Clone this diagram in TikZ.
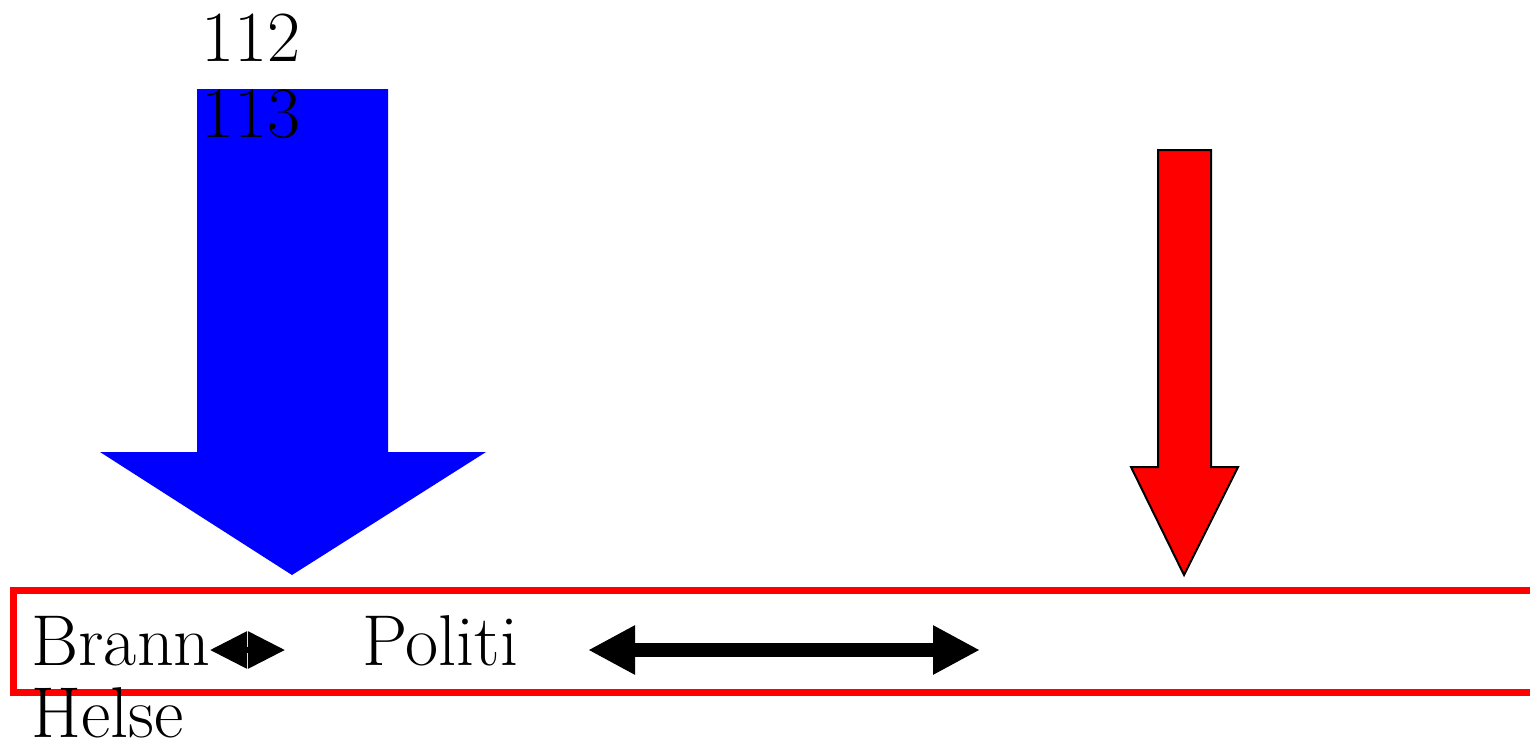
\documentclass[tikz,border=0pt]{standalone}
\usetikzlibrary{arrows.meta}
\begin{document}
\begin{tikzpicture}[x=0.5pt,y=-0.5pt,
  lbl/.style={anchor=base west,inner sep=0pt,font=\fontsize{36}{38}\selectfont},
  bluearrow/.style={fill=blue,draw=none},
  redarrow/.style={fill=red,draw=black,line width=1pt,line join=miter},
  frame/.style={draw=red,line width=3.5pt},
  bigdbl/.style={line width=7pt,{Triangle[length=23.5pt,width=23pt]}-{Triangle[length=23.5pt,width=23pt]}},
  smalldbl/.style={line width=3pt,{Triangle[length=18.5pt,width=18pt]}-{Triangle[length=18.5pt,width=18pt]}}]
\clip (0,0) rectangle (1530,745);
% blue block arrow
\fill[bluearrow] (197,89) -- (388,89) -- (388,452) -- (486,452) -- (292,575) -- (100,452) -- (197,452) -- cycle;
% red block arrow
\draw[redarrow] (1158,150) -- (1211,150) -- (1211,467) -- (1238,467) -- (1184,575) -- (1131,467) -- (1158,467) -- cycle;
% red frame
\draw[frame] (13,590) rectangle (1560,692);
% texts
\node[lbl] (t112) at (201,61) {112};
\node[lbl] (t113) at (201,137) {113};
\node[lbl] (brann) at (31,665) {Brann};
\node[lbl] (helse) at (31,737) {Helse};
\node[lbl] (politi) at (362,665) {Politi};
% double arrows
\coordinate (s1) at (210,650);
\coordinate (s2) at (285,650);
\draw[smalldbl] (s1) -- (s2);
\coordinate (b1) at (588,650);
\coordinate (b2) at (980,650);
\draw[bigdbl] (b1) -- (b2);
\end{tikzpicture}
\end{document}
